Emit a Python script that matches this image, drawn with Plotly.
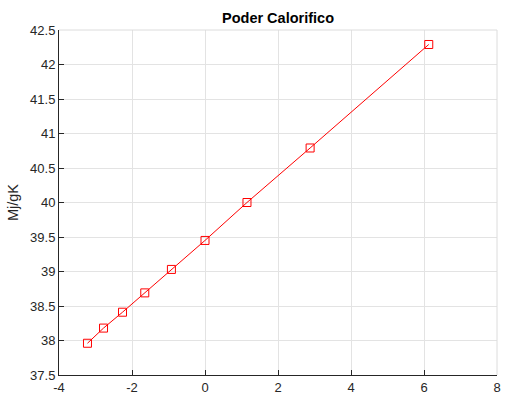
import plotly.graph_objects as go

x_vals = [-3.22, -2.78, -2.26, -1.65, -0.92, 0.0, 1.15, 2.88, 6.13]
y_vals = [37.96, 38.18, 38.41, 38.69, 39.03, 39.45, 40.0, 40.79, 42.29]
x_ticks = [-4, -2, 0, 2, 4, 6, 8]
y_ticks = [37.5, 38, 38.5, 39, 39.5, 40, 40.5, 41, 41.5, 42, 42.5]
title_text = "Poder Calorifico"
y_title = "Mj/gK"

fig = go.Figure()
fig.add_trace(go.Scatter(
    x=x_vals, y=y_vals, mode="lines+markers",
    line=dict(color="#ff0000", width=1),
    marker=dict(symbol="square-open", size=8, color="#ff0000", line=dict(width=1)),
    showlegend=False,
))

font = "Liberation Sans, Arial, sans-serif"
fig.update_layout(
    width=529, height=404,
    margin=dict(l=59, r=32, t=30, b=29, autoexpand=False),
    paper_bgcolor="white", plot_bgcolor="white",
    font=dict(family=font, size=13, color="#262626"),
    title=dict(text="<b>" + title_text + "</b>", x=(59 + 497) / 2 / 529, xanchor="center",
               y=1 - 18 / 404, yanchor="middle", font=dict(size=14.5, color="black")),
    shapes=[
        dict(type="line", xref="paper", yref="paper", x0=0, x1=1, y0=1, y1=1,
             line=dict(color="#dcdcdc", width=1)),
        dict(type="line", xref="paper", yref="paper", x0=1, x1=1, y0=0, y1=1,
             line=dict(color="#dcdcdc", width=1)),
    ],
)
fig.update_xaxes(
    range=[-4, 8], tickvals=x_ticks, ticktext=[str(t) for t in x_ticks],
    showgrid=True, gridcolor="#e3e3e3", gridwidth=1, zeroline=False,
    showline=True, linecolor="#262626", linewidth=1,
    ticks="inside", ticklen=5, tickcolor="#262626",
)
fig.update_yaxes(
    range=[37.5, 42.5], tickvals=y_ticks, ticktext=[("%g" % t) for t in y_ticks],
    showgrid=True, gridcolor="#e3e3e3", gridwidth=1, zeroline=False,
    showline=True, linecolor="#262626", linewidth=1,
    ticks="inside", ticklen=5, tickcolor="#262626",
    title=dict(text=y_title, font=dict(size=14.5, color="#262626"), standoff=8),
)

fig.write_html("out.html", config={"displayModeBar": False},
               post_script="document.body.style.margin='0';document.body.style.overflow='hidden';")
